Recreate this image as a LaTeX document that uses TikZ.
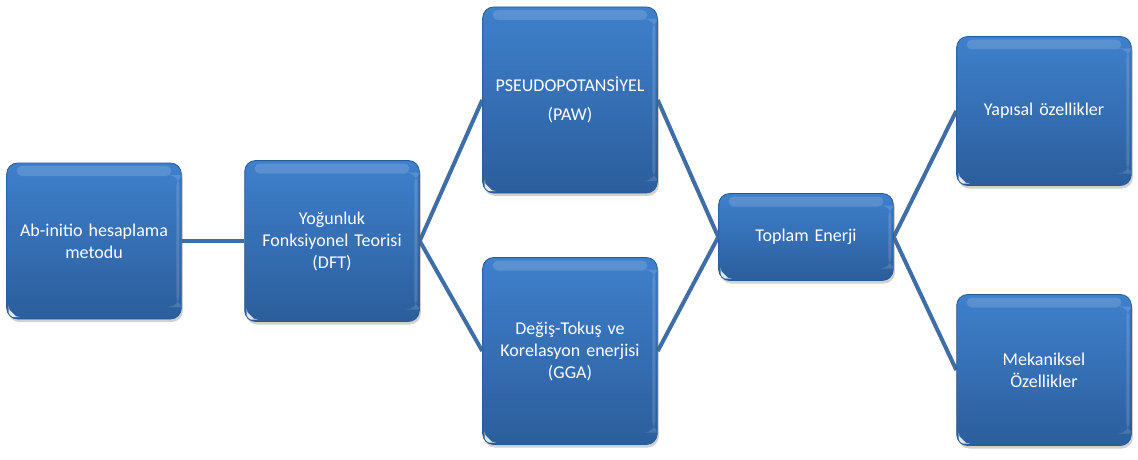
\documentclass[tikz,border=0pt]{standalone}
\usepackage{fontspec}
\setmainfont{Carlito}
\usetikzlibrary{shadows,backgrounds}
\definecolor{boxtop}{HTML}{3F80CC}
\definecolor{boxbot}{HTML}{2B5E9C}
\definecolor{boxedge}{HTML}{2A5A92}
\definecolor{linkc}{HTML}{3F6EA6}
\tikzset{
  box/.style={rectangle, rounded corners=11pt, minimum width=172pt,
    top color=boxtop, bottom color=boxbot, draw=boxedge, line width=0.8pt,
    drop shadow={opacity=0.3, shadow xshift=1.5pt, shadow yshift=-3pt, fill=black!60},
    text=white, font=\fontsize{18}{22}\selectfont, align=center, text width=168pt,
    path picture={
      \fill[white,opacity=0.14,rounded corners=5pt]
        ([xshift=10pt,yshift=-3pt]path picture bounding box.north west) rectangle
        ([xshift=-10pt,yshift=-13pt]path picture bounding box.north east);
      \fill[white,opacity=0.14]
        ([xshift=-5pt,yshift=-12pt]path picture bounding box.north east) rectangle
        ([xshift=-2pt,yshift=12pt]path picture bounding box.south east);
      \fill[white,opacity=0.85]
        ([xshift=2pt,yshift=2pt]path picture bounding box.south west) --
        ([xshift=2pt,yshift=10pt]path picture bounding box.south west) --
        ([xshift=10pt,yshift=2pt]path picture bounding box.south west) -- cycle;
    }},
  link/.style={draw=linkc, line width=4pt}
}
\begin{document}
\begin{tikzpicture}[x=1pt,y=-1pt]
\useasboundingbox (0,0) rectangle (1138,460);
\node[box, minimum height=156pt] (ab) at (94,241) {Ab-initio hesaplama\\metodu};
\node[box, minimum height=161pt] (dft) at (332,241) {Yoğunluk\\Fonksiyonel Teorisi\\(DFT)};
\node[box, minimum height=186pt] (paw) at (570,100) {PSEUDOPOTANSİYEL\\[7pt](PAW)};
\node[box, minimum height=187pt] (gga) at (570,351) {Değiş-Tokuş ve\\Korelasyon enerjisi\\(GGA)};
\node[box, minimum height=87pt, minimum width=172pt] (te) at (806,237) {Toplam Enerji};
\node[box, minimum height=149pt] (yap) at (1044,111) {Yapısal özellikler};
\node[box, minimum height=151pt] (mek) at (1044,370) {Mekaniksel\\Özellikler};
\begin{scope}[on background layer]
\draw[link] (ab.east) -- (dft.west);
\draw[link] (dft.east) -- (paw.west);
\draw[link] (dft.east) -- (gga.west);
\draw[link] (paw.east) -- (te.west);
\draw[link] (gga.east) -- (te.west);
\draw[link] (te.east) -- (yap.west);
\draw[link] (te.east) -- (mek.west);
\end{scope}
\end{tikzpicture}
\end{document}
